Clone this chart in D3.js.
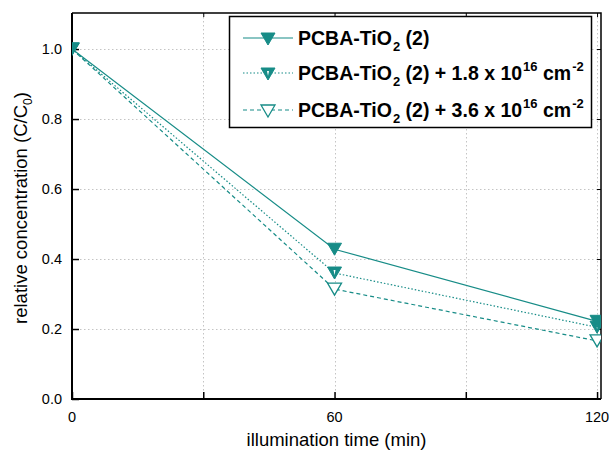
<!DOCTYPE html>
<html>
<head>
<meta charset="utf-8">
<script src="https://cdn.jsdelivr.net/npm/d3@7"></script>
<style>
  body { margin: 0; background: #fff; }
  svg { font-family: "Liberation Sans", Arial, sans-serif; }
</style>
</head>
<body>
<svg id="chart" width="609" height="453"></svg>
<script>
// illumination time (min)
const times = [0, 60, 120];
// relative concentration C/C0 for each sample
const pureValues = [1.0, 0.428, 0.222];
const dose18Values = [1.0, 0.36, 0.205];
const dose36Values = [1.0, 0.314, 0.166];
const xTicks = [0, 60, 120];
const xMinorTicks = [30, 90];
const yTicks = [0.0, 0.2, 0.4, 0.6, 0.8, 1.0];

const teal = '#178c87';

const series = [
  { name: 'pure', values: pureValues, dash: null, marker: 'filled', label: ['PCBA-TiO', '2', ' (2)', '', '', '', ''] },
  { name: 'd18', values: dose18Values, dash: '1.5,2', marker: 'half', label: ['PCBA-TiO', '2', ' (2) + 1.8 x 10', '16', ' cm', '-2'] },
  { name: 'd36', values: dose36Values, dash: '4,3', marker: 'open', label: ['PCBA-TiO', '2', ' (2) + 3.6 x 10', '16', ' cm', '-2'] }
];

const svg = d3.select('#chart');
const pLeft = 72, pRight = 601, pTop = 13, pBottom = 399;

const xScale = d3.scaleLinear().domain([0, 120.9]).range([pLeft, pRight]);
const yScale = d3.scaleLinear().domain([0, 1.103]).range([pBottom, pTop]);

// grid
const grid = svg.append('g').attr('stroke', '#c4c4c4').attr('stroke-width', 1).attr('stroke-dasharray', '1.5,2.5');
grid.selectAll('line.gx').data([30, 60, 90, 120]).enter().append('line')
  .attr('x1', d => Math.round(xScale(d)) + 0.5).attr('x2', d => Math.round(xScale(d)) + 0.5)
  .attr('y1', pTop).attr('y2', pBottom);
grid.selectAll('line.gy').data(yTicks.filter(d => d > 0)).enter().append('line')
  .attr('y1', d => Math.round(yScale(d)) + 0.5).attr('y2', d => Math.round(yScale(d)) + 0.5)
  .attr('x1', pLeft).attr('x2', pRight);

// axes (ticks inward)
const xAxis = d3.axisTop(xScale).tickValues(xTicks.concat(xMinorTicks)).tickSize(7).tickFormat('');
svg.append('g').attr('transform', `translate(0,${pBottom})`).call(xAxis)
  .call(g => g.select('.domain').remove())
  .selectAll('line').attr('stroke', '#000').attr('stroke-width', 1.5);

svg.append('g').selectAll('text').data(xTicks).enter().append('text')
  .attr('x', d => xScale(d)).attr('y', 422).attr('text-anchor', 'middle')
  .attr('font-size', 14.5).text(d => d);

const yAxis = d3.axisRight(yScale).tickValues(yTicks).tickSize(7).tickFormat('');
svg.append('g').attr('transform', `translate(${pLeft},0)`).call(yAxis)
  .call(g => g.select('.domain').remove())
  .selectAll('line').attr('stroke', '#000').attr('stroke-width', 1.5);

svg.append('g').selectAll('text').data(yTicks).enter().append('text')
  .attr('x', 62).attr('y', d => yScale(d) + 5).attr('text-anchor', 'end')
  .attr('font-size', 14.5).text(d => d.toFixed(1));

// mirrored ticks on top and right
const xTop = d3.axisBottom(xScale).tickValues(xTicks.concat(xMinorTicks)).tickSize(4).tickFormat('');
svg.append('g').attr('transform', `translate(0,${pTop})`).call(xTop)
  .call(g => g.select('.domain').remove())
  .selectAll('line').attr('stroke', '#000');
const yRight = d3.axisLeft(yScale).tickValues(yTicks).tickSize(4).tickFormat('');
svg.append('g').attr('transform', `translate(${pRight},0)`).call(yRight)
  .call(g => g.select('.domain').remove())
  .selectAll('line').attr('stroke', '#000');

// frame
svg.append('path')
  .attr('d', `M${pLeft},${pTop}H${pRight}V${pBottom}`)
  .attr('fill', 'none').attr('stroke', '#000').attr('stroke-width', 1.5);
svg.append('path')
  .attr('d', `M${pLeft},${pTop}V${pBottom}H${pRight}`)
  .attr('fill', 'none').attr('stroke', '#000').attr('stroke-width', 2);

// axis titles
svg.append('text').attr('x', (pLeft + pRight) / 2).attr('y', 446).attr('text-anchor', 'middle')
  .attr('font-size', 18.5).text('illumination time (min)');
const yt = svg.append('text').attr('transform', 'translate(27,208) rotate(-90)')
  .attr('text-anchor', 'middle').attr('font-size', 18.5);
yt.append('tspan').text('relative concentration (C/C');
yt.append('tspan').attr('font-size', 12).attr('dy', 5).text('0');
yt.append('tspan').attr('dy', -5).text(')');

// data
svg.append('clipPath').attr('id', 'plotclip').append('rect')
  .attr('x', pLeft).attr('y', pTop).attr('width', pRight - pLeft).attr('height', pBottom - pTop);
const plot = svg.append('g').attr('clip-path', 'url(#plotclip)');

const tri = 'M-7,-6L7,-6L0,6Z';
function drawMarker(g, kind) {
  if (kind === 'filled') {
    g.append('path').attr('d', tri).attr('fill', teal).attr('stroke', teal).attr('stroke-width', 1);
  } else if (kind === 'half') {
    g.append('path').attr('d', tri).attr('fill', teal).attr('stroke', teal).attr('stroke-width', 1);
    g.append('path').attr('d', 'M-1,-3L1,-3L0,2Z').attr('fill', '#fff');
  } else {
    g.append('path').attr('d', tri).attr('fill', '#fff').attr('stroke', teal).attr('stroke-width', 1.3);
  }
}

const line = d3.line().x((d, i) => xScale(times[i])).y(d => yScale(d));
series.forEach(s => {
  plot.append('path').datum(s.values).attr('d', line)
    .attr('fill', 'none').attr('stroke', teal).attr('stroke-width', 1.2)
    .attr('stroke-dasharray', s.dash);
});
series.slice().reverse().forEach(s => {
  s.values.forEach((v, i) => {
    const g = plot.append('g').attr('transform', `translate(${xScale(times[i])},${yScale(v)})`);
    drawMarker(g, s.marker);
  });
});

// legend
const lg = svg.append('g');
lg.append('rect').attr('x', 229.5).attr('y', 16.5).attr('width', 362).attr('height', 111)
  .attr('fill', '#fff').attr('stroke', '#000').attr('stroke-width', 1.5);
const rowY = [38, 73, 110];
series.forEach((s, i) => {
  const y = rowY[i];
  lg.append('line').attr('x1', 243).attr('x2', 293).attr('y1', y).attr('y2', y)
    .attr('stroke', teal).attr('stroke-width', 1.2).attr('stroke-dasharray', s.dash);
  drawMarker(lg.append('g').attr('transform', `translate(268,${y + 1})`), s.marker);
  const t = lg.append('text').attr('x', 298).attr('y', y + 7)
    .attr('font-size', 19.5).attr('font-weight', 'bold');
  const L = s.label;
  t.append('tspan').text(L[0]);
  t.append('tspan').attr('font-size', 13).attr('dx', 1).attr('dy', 6).text(L[1]);
  t.append('tspan').attr('dy', -6).text(L[2]);
  if (L[3]) {
    t.append('tspan').attr('font-size', 13).attr('dx', 1).attr('dy', -9).text(L[3]);
    t.append('tspan').attr('dy', 9).text(L[4]);
    t.append('tspan').attr('font-size', 13).attr('dx', 1).attr('dy', -9).text(L[5]);
  }
});
</script>
</body>
</html>
